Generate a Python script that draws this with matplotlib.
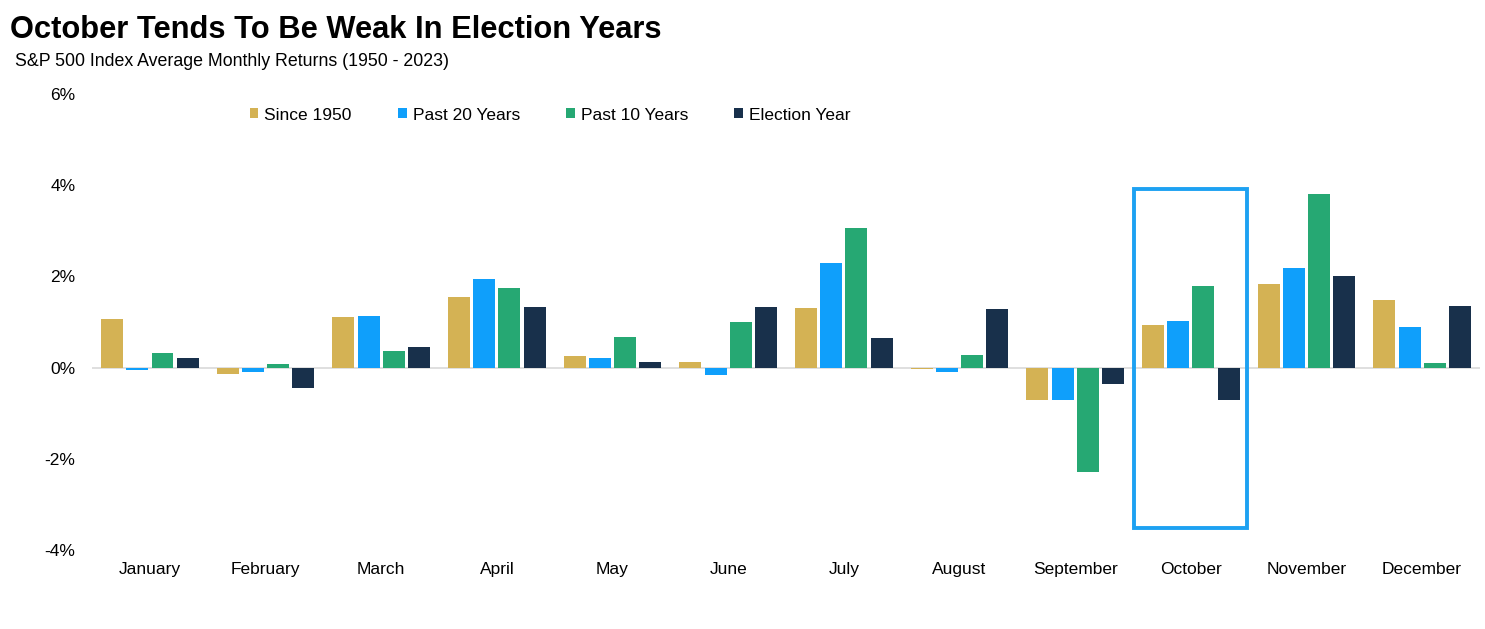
import matplotlib
matplotlib.use("Agg")
import matplotlib.pyplot as plt
from matplotlib.patches import Rectangle
from matplotlib.ticker import FuncFormatter
import numpy as np

plt.rcParams['font.family'] = ['Liberation Sans', 'DejaVu Sans']

# ------------------- Data -------------------
months = ['January', 'February', 'March', 'April', 'May', 'June',
          'July', 'August', 'September', 'October', 'November', 'December']
since_1950 = [1.07, -0.13, 1.12, 1.55, 0.25, 0.12, 1.30, -0.04, -0.72, 0.94, 1.84, 1.49]
past_20 = [-0.05, -0.10, 1.13, 1.95, 0.20, -0.17, 2.30, -0.10, -0.70, 1.03, 2.18, 0.90]
past_10 = [0.33, 0.07, 0.36, 1.75, 0.68, 1.00, 3.07, 0.28, -2.30, 1.79, 3.81, 0.10]
election_year = [0.20, -0.45, 0.45, 1.33, 0.12, 1.33, 0.65, 1.28, -0.35, -0.72, 2.00, 1.36]

series_names = ['Since 1950', 'Past 20 Years', 'Past 10 Years', 'Election Year']
series_values = [since_1950, past_20, past_10, election_year]
colors = ['#D4B254', '#0F9FFB', '#26A873', '#18304B']

highlight_month = 'October'

# ------------------- Figure -------------------
fig = plt.figure(figsize=(14.85, 6.29), dpi=100)
ax = fig.add_axes([0.062, 0.1256, 0.9346, 0.725])

x = np.arange(len(months))
pitch = 0.218
width = 0.19
for i, (name, vals, col) in enumerate(zip(series_names, series_values, colors)):
    offset = (i - 1.5) * pitch
    ax.bar(x + offset, vals, width, color=col, label=name, zorder=3)

ax.axhline(0, color='#D9D9D9', linewidth=1.2, zorder=2)

# highlight box around October
idx = months.index(highlight_month)
ax.add_patch(Rectangle((idx - 0.49, -3.51), 0.98, 7.43, fill=False,
                       edgecolor='#1DA1F2', linewidth=2.8, zorder=4,
                       clip_on=False))

ax.set_xlim(-0.5, 11.5)
ax.set_ylim(-4, 6)
ax.set_yticks([-4, -2, 0, 2, 4, 6])
ax.yaxis.set_major_formatter(FuncFormatter(lambda v, p: f'{v:.0f}%'))
ax.set_xticks(x)
ax.set_xticklabels(months)
ax.tick_params(axis='both', length=0, labelsize=12.5, colors='#000000')
ax.tick_params(axis='y', pad=12)
ax.tick_params(axis='x', pad=9)
for s in ax.spines.values():
    s.set_visible(False)

fig.text(0.007, 0.952, 'October Tends To Be Weak In Election Years',
         fontsize=22.2, fontweight='bold', ha='left', va='center')
fig.text(0.010, 0.902, 'S&P 500 Index Average Monthly Returns (1950 - 2023)',
         fontsize=12.8, ha='left', va='center')

fig.legend(loc='center', bbox_to_anchor=(550 / 1485, 1 - 115 / 629), ncol=4,
           frameon=False, fontsize=12.5, handlelength=0.5, handleheight=0.5,
           handletextpad=0.35, columnspacing=2.65)

fig.savefig('out.png', dpi=100)
